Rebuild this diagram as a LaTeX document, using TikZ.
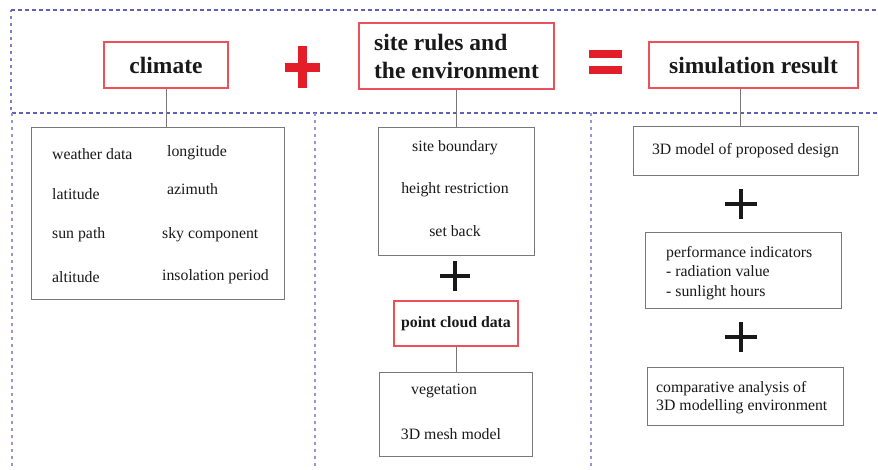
\documentclass[tikz,border=0pt]{standalone}
\usepackage{fontspec}
\setmainfont{Liberation Serif}
\usetikzlibrary{calc}
\definecolor{redbox}{RGB}{236,80,90}
\definecolor{redsign}{RGB}{228,30,40}
\definecolor{dashblue}{RGB}{95,95,190}
\definecolor{dashlav}{RGB}{150,150,215}
\definecolor{graybox}{RGB}{120,120,120}
\definecolor{txt}{RGB}{25,25,25}
\begin{document}
\begin{tikzpicture}[x=1pt,y=-1pt,
  bigtxt/.style={font=\fontsize{23.5}{28}\selectfont\bfseries, text=txt},
  smalltxt/.style={font=\fontsize{15.8}{19.5}\selectfont, text=txt},
  redframe/.style={draw=redbox, line width=1.3pt, inner sep=0pt, fill=white},
  grayframe/.style={draw=graybox, line width=0.9pt, inner sep=0pt, fill=white},
  hdash/.style={draw=dashblue, line width=1.1pt, dash pattern=on 4pt off 3pt},
  vdash/.style={draw=dashlav, line width=1.2pt, dash pattern=on 3pt off 4pt},
  link/.style={draw=graybox, line width=0.9pt},
  redbar/.style={draw=redsign, line width=9pt},
  blackbar/.style={draw=txt, line width=3.7pt},
  item/.style={smalltxt, anchor=west, inner sep=0pt}
]
\useasboundingbox (0,0) rectangle (878,469);
\fill[white] (0,0) rectangle (878,469);

% dashed frames
\draw[vdash, draw=dashblue!80] (11,110) -- (11,10);
\draw[hdash] (11,10) -- (878,10);
\draw[hdash] (12,113) -- (878,113);
\draw[vdash] (12,113) -- (12,469);
\draw[vdash] (315,113) -- (315,469);
\draw[vdash] (591,113) -- (591,469);

% top row
\node[redframe, bigtxt, minimum width=124pt, minimum height=46pt] (climate) at (166,65) {climate\hspace{18pt}};
\node[redframe, bigtxt, minimum width=195pt, minimum height=66pt, align=left] (site) at (456.5,56) {site rules and\\the environment};
\node[redframe, bigtxt, minimum width=209pt, minimum height=46pt] (sim) at (753.5,65) {simulation result};

% red plus and equals
\coordinate (rplus) at (302,67);
\draw[redbar] ($(rplus)+(-17.5,0)$) -- ($(rplus)+(17.5,0)$);
\draw[redbar] ($(rplus)+(0,-21)$) -- ($(rplus)+(0,21)$);
\coordinate (eq) at (605.5,62);
\fill[redsign] ($(eq)+(-16.5,-12)$) rectangle ($(eq)+(16.5,-4)$);
\fill[redsign] ($(eq)+(-16.5,4)$) rectangle ($(eq)+(16.5,12)$);

% climate column
\node[grayframe, minimum width=253pt, minimum height=172pt] (clist) at (157.5,213) {};
\draw[link] (climate.south) -- (climate.south |- clist.north);
\node[item] (c1) at (52,154) {weather data};
\node[item] (c2) at (167,153) {longitude};
\node[item] (c3) at (52,194) {latitude};
\node[item] (c4) at (167,189) {azimuth};
\node[item] (c5) at (52,235) {sun path};
\node[item] (c6) at (162,235) {sky component};
\node[item] (c7) at (52,277) {altitude};
\node[item] (c8) at (162,277) {insolation period};

% site column
\node[grayframe, minimum width=156pt, minimum height=128pt] (sbox) at (456,191) {};
\draw[link] (site.south) -- (site.south |- sbox.north);
\node[smalltxt, inner sep=0pt] (s1) at (455,148) {site boundary};
\node[smalltxt, inner sep=0pt] (s2) at (455,190) {height restriction};
\node[smalltxt, inner sep=0pt] (s3) at (455,231) {set back};
\coordinate (bplus1) at (455,276);
\draw[blackbar] ($(bplus1)+(-15,0)$) -- ($(bplus1)+(15,0)$);
\draw[blackbar] ($(bplus1)+(0,-15)$) -- ($(bplus1)+(0,15)$);
\node[redframe, minimum width=124pt, minimum height=45pt, font=\fontsize{15.8}{19}\selectfont\bfseries, text=txt] (pcd) at (456,323.5) {point cloud data};
\node[grayframe, minimum width=153pt, minimum height=84pt] (mesh) at (455.5,414) {};
\draw[link] (pcd.south) -- (pcd.south |- mesh.north);
\node[smalltxt, inner sep=0pt] (m1) at (444,391) {vegetation};
\node[smalltxt, inner sep=0pt] (m2) at (451,434) {3D mesh model};

% result column
\node[grayframe, smalltxt, minimum width=225pt, minimum height=49pt] (r1) at (745.5,150.5) {3D model of proposed design};
\draw[link] ([xshift=-13.5pt]sim.south) -- ([xshift=-13.5pt]sim.south |- r1.north);
\coordinate (bplus2) at (741,204);
\draw[blackbar] ($(bplus2)+(-16,0)$) -- ($(bplus2)+(16,0)$);
\draw[blackbar] ($(bplus2)+(0,-15)$) -- ($(bplus2)+(0,15)$);
\node[grayframe, minimum width=196pt, minimum height=76pt] (r2) at (743,270) {};
\node[item, align=left, font=\fontsize{15.8}{19.5}\selectfont] (r2t) at (666,273) {performance indicators\\- radiation value\\- sunlight hours};
\coordinate (bplus3) at (741,337);
\draw[blackbar] ($(bplus3)+(-16,0)$) -- ($(bplus3)+(16,0)$);
\draw[blackbar] ($(bplus3)+(0,-15)$) -- ($(bplus3)+(0,15)$);
\node[grayframe, minimum width=196pt, minimum height=58pt] (r3) at (745,396) {};
\node[item, align=left, font=\fontsize{15.8}{18}\selectfont] (r3t) at (656,398) {comparative analysis of\\3D modelling environment};
\end{tikzpicture}
\end{document}
